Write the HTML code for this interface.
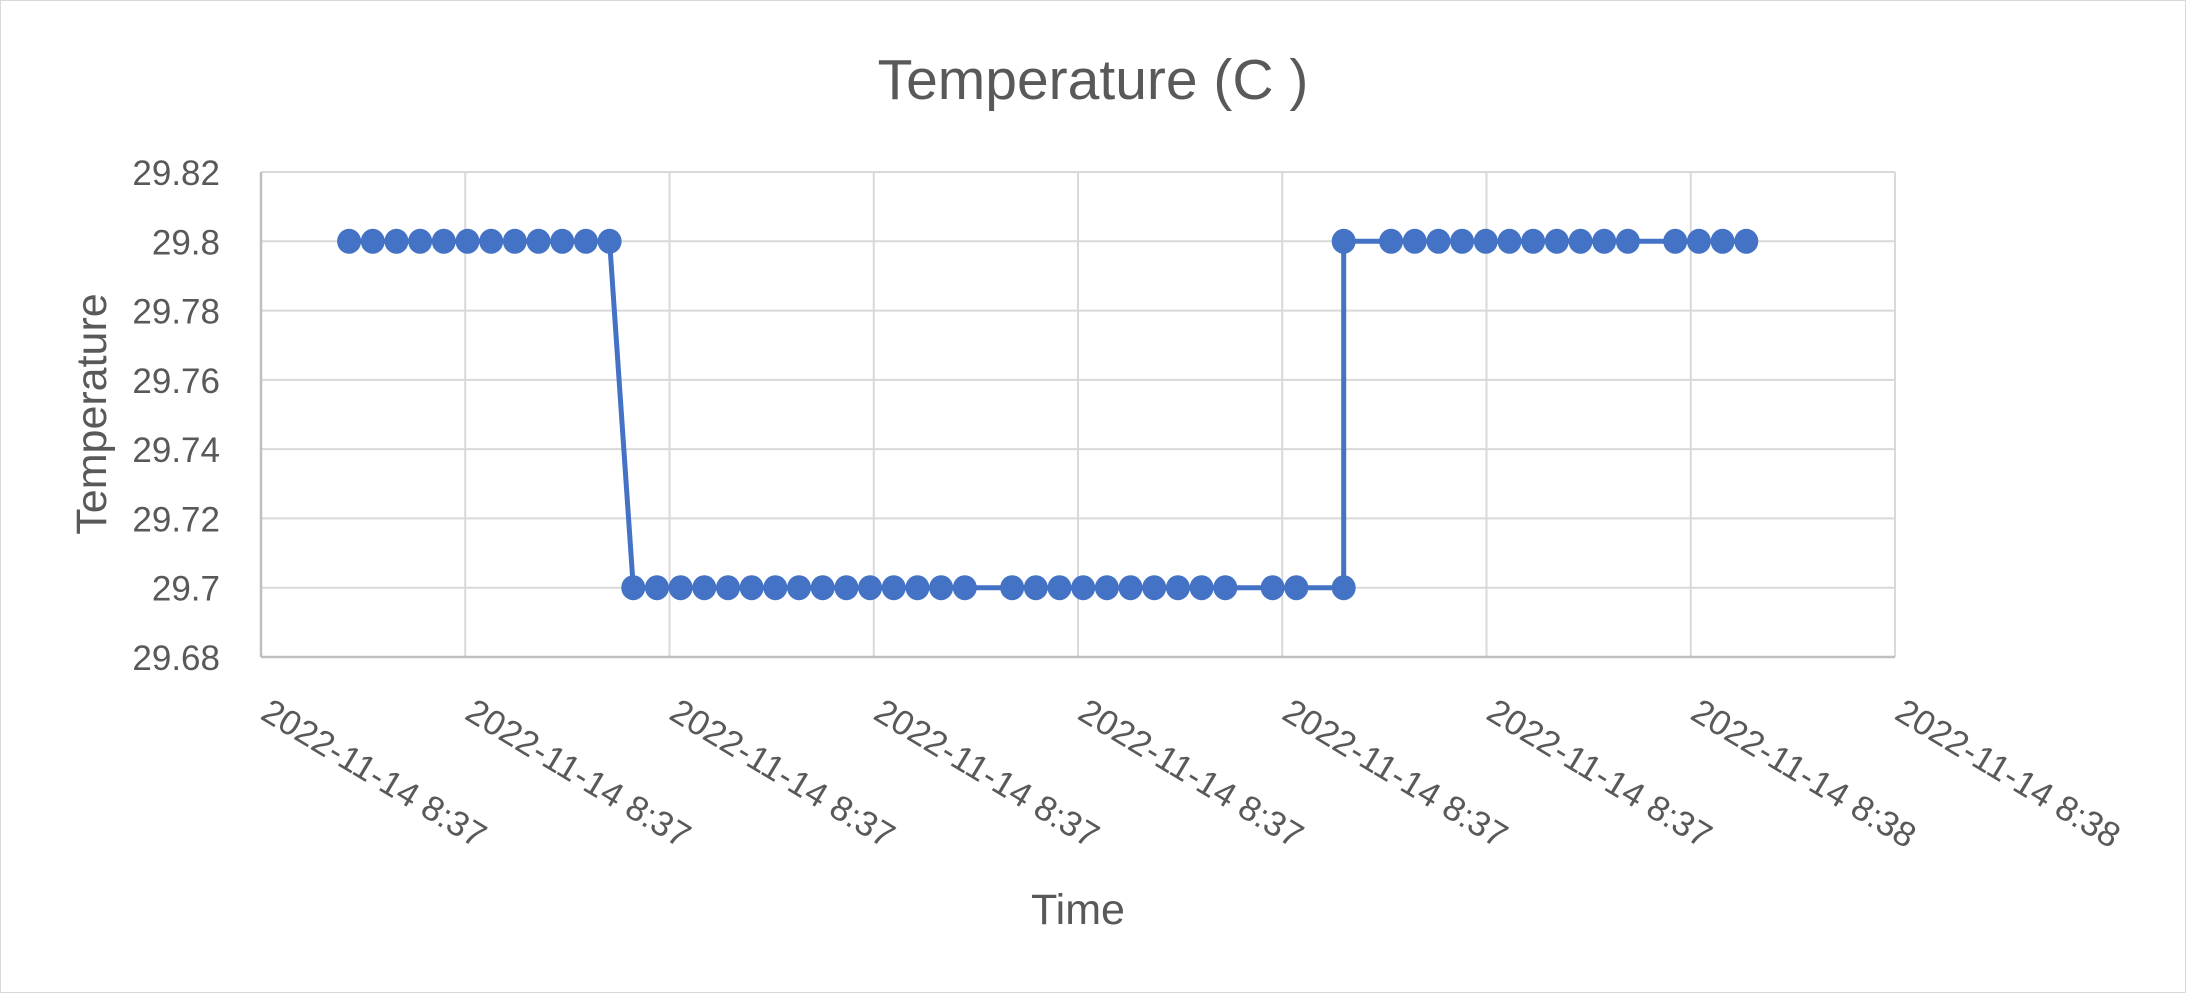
<!DOCTYPE html>
<html><head><meta charset="utf-8"><style>
html,body{margin:0;padding:0;background:#fff;}
svg{display:block;font-family:"Liberation Sans",sans-serif;}
</style></head><body>
<svg id="chart" width="2186" height="993" viewBox="0 0 2186 993" xmlns="http://www.w3.org/2000/svg">
<rect x="0.5" y="0.5" width="2185" height="992" fill="#fff" stroke="#d9d9d9" stroke-width="1"/>
<text x="1093" y="99" text-anchor="middle" font-size="57" fill="#595959">Temperature (C )</text>
<text transform="translate(106,414) rotate(-90)" text-anchor="middle" font-size="43" fill="#595959">Temperature</text>
<text x="1078" y="924" text-anchor="middle" font-size="43" fill="#595959">Time</text>
<g id="grid"></g><g id="axes"></g><g id="series"></g><g id="labels"></g>
</svg>
<script>
const yTicks = [29.68, 29.70, 29.72, 29.74, 29.76, 29.78, 29.80, 29.82];
const yTickLabels = ["29.68","29.7","29.72","29.74","29.76","29.78","29.8","29.82"];
const xTickLabels = ["2022-11-14 8:37","2022-11-14 8:37","2022-11-14 8:37","2022-11-14 8:37","2022-11-14 8:37","2022-11-14 8:37","2022-11-14 8:37","2022-11-14 8:38","2022-11-14 8:38"];
const times = [0,1,2,3,4,5,6,7,8,9,10,11,12,13,14,15,16,17,18,19,20,21,22,23,24,25,26,28,29,30,31,32,33,34,35,36,37,39,40,42,42,44,45,46,47,48,49,50,51,52,53,54,56,57,58,59];
const temps = [29.8,29.8,29.8,29.8,29.8,29.8,29.8,29.8,29.8,29.8,29.8,29.8,29.7,29.7,29.7,29.7,29.7,29.7,29.7,29.7,29.7,29.7,29.7,29.7,29.7,29.7,29.7,29.7,29.7,29.7,29.7,29.7,29.7,29.7,29.7,29.7,29.7,29.7,29.7,29.7,29.8,29.8,29.8,29.8,29.8,29.8,29.8,29.8,29.8,29.8,29.8,29.8,29.8,29.8,29.8,29.8];
const NS="http://www.w3.org/2000/svg";
const L=261,R=1895,T=172,B=657;
const xMin=-3.72,xMax=65.28,yMin=29.68,yMax=29.82;
function xs(v){return L+(v-xMin)/(xMax-xMin)*(R-L);}
function ys(v){return B-(v-yMin)/(yMax-yMin)*(B-T);}
function mk(tag,attrs,parent){const e=document.createElementNS(NS,tag);for(const k in attrs)e.setAttribute(k,attrs[k]);parent.appendChild(e);return e;}
const grid=document.getElementById('grid'),axes=document.getElementById('axes'),series=document.getElementById('series'),labels=document.getElementById('labels');
const nX=xTickLabels.length-1;
for(let i=0;i<yTicks.length;i++){
  const y=ys(yTicks[i]);
  const g=mk('line',{x1:L,x2:R,y1:y,y2:y,stroke:'#d9d9d9','stroke-width':2},grid);
  
  
  const t=mk('text',{x:220,y:y+13,'text-anchor':'end','font-size':35,fill:'#595959'},labels);
  t.textContent=yTickLabels[i];
  
  
}
for(let i=0;i<=nX;i++){
  const x=xs(xMin+(xMax-xMin)*i/nX);
  const g=mk('line',{x1:x,x2:x,y1:T,y2:B,stroke:'#d9d9d9','stroke-width':2},grid);
  
  
  const t=mk('text',{transform:'translate('+(x-2)+',718) rotate(31)','font-size':35,fill:'#595959'},labels);
  t.textContent=xTickLabels[i];
  
  
}
const ax1=mk('line',{x1:L,x2:R,y1:B,y2:B,stroke:'#bfbfbf','stroke-width':2.5},axes);


const ax2=mk('line',{x1:L,x2:L,y1:T,y2:B,stroke:'#bfbfbf','stroke-width':2.5},axes);


let d='';
for(let i=0;i<times.length;i++){d+=(i?'L':'M')+xs(times[i]).toFixed(1)+','+ys(temps[i]).toFixed(1);}
const p=mk('path',{d:d,fill:'none',stroke:'#4472c4','stroke-width':5,'stroke-linejoin':'round'},series);


for(let i=0;i<times.length;i++){
  const c=mk('ellipse',{cx:xs(times[i]),cy:ys(temps[i]),rx:12,ry:12.5,fill:'#4472c4'},series);
  
  
}
</script>
</body></html>
